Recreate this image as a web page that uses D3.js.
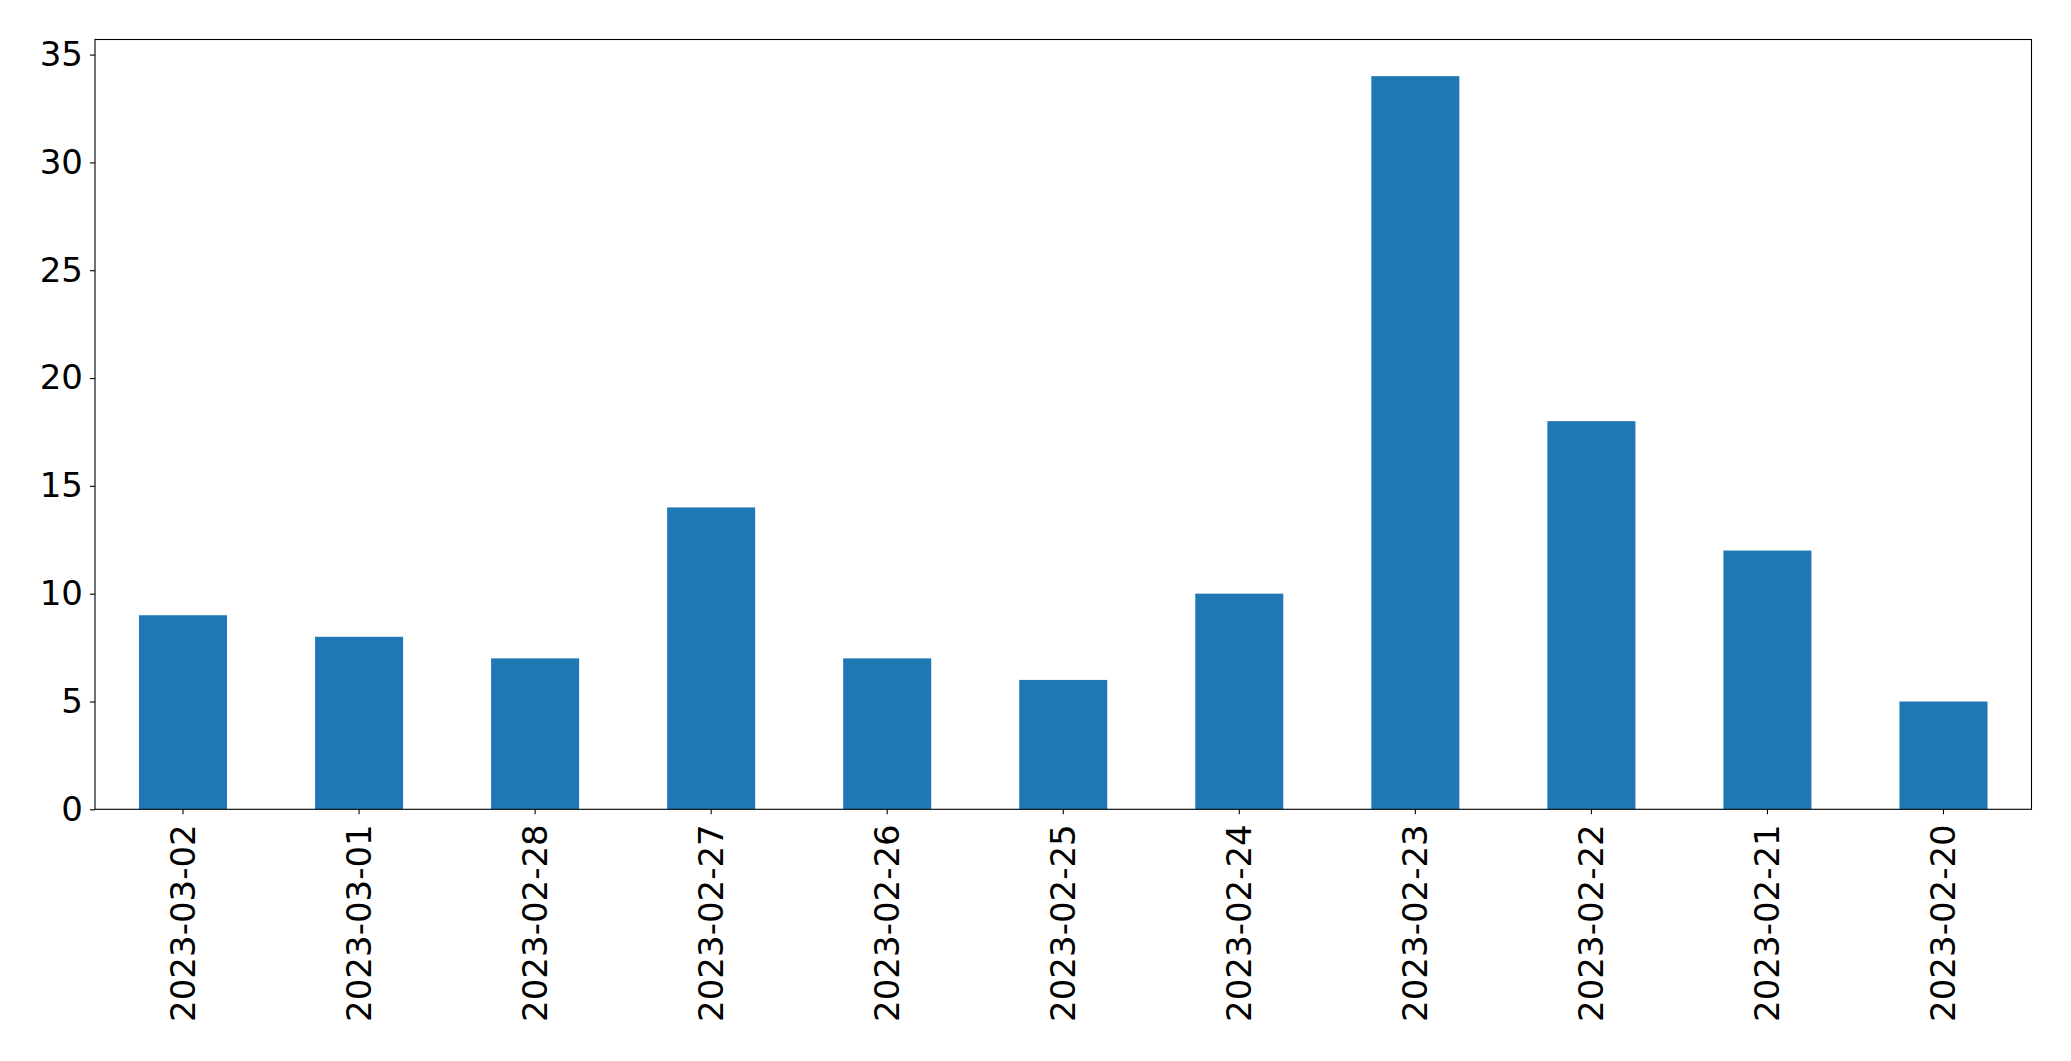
<!DOCTYPE html>
<html>
<head>
<meta charset="utf-8">
<script src="https://cdn.jsdelivr.net/npm/d3@7"></script>
<style>
  html, body { margin: 0; padding: 0; background: #fff; }
  svg { display: block; }
</style>
</head>
<body>
<script>
const categories = ["2023-03-02","2023-03-01","2023-02-28","2023-02-27","2023-02-26","2023-02-25","2023-02-24","2023-02-23","2023-02-22","2023-02-21","2023-02-20"];
const values = [9, 8, 7, 14, 7, 6, 10, 34, 18, 12, 5];
const yTicks = [0, 5, 10, 15, 20, 25, 30, 35];

const W = 2071, H = 1061;
const margin = {left: 95, top: 39.5, right: W - 2031.5, bottom: H - 809.3};
const iw = W - margin.left - margin.right;
const ih = H - margin.top - margin.bottom;

const svg = d3.select("body").append("svg").attr("width", W).attr("height", H);
const g = svg.append("g").attr("transform", `translate(${margin.left},${margin.top})`);

const x = d3.scaleBand().domain(categories).range([0, iw]).paddingInner(0.5).paddingOuter(0.25);
const yMax = d3.max(values) * 1.05;
const y = d3.scaleLinear().domain([0, yMax]).range([ih, 0]);

g.selectAll("rect.bar").data(values).join("rect")
  .attr("class", "bar")
  .attr("x", (d, i) => x(categories[i]))
  .attr("width", x.bandwidth())
  .attr("y", d => y(d))
  .attr("height", d => y(0) - y(d))
  .attr("fill", "#1f77b4");

const font = "'DejaVu Sans', sans-serif";
const fs = 34;

const yAxis = g.append("g")
  .call(d3.axisLeft(y).tickValues(yTicks).tickSize(5).tickPadding(7).tickFormat(d3.format("d")));
yAxis.select(".domain").remove();
yAxis.selectAll("line").attr("stroke", "#000").attr("stroke-width", 1.1);
yAxis.selectAll("text").attr("font-family", font).attr("font-size", fs).attr("fill", "#000");

const xAxis = g.append("g").attr("transform", `translate(0,${ih})`)
  .call(d3.axisBottom(x).tickSize(5).tickPadding(0));
xAxis.select(".domain").remove();
xAxis.selectAll("line").attr("stroke", "#000").attr("stroke-width", 1.1);
xAxis.selectAll("text")
  .attr("font-family", font).attr("font-size", fs).attr("fill", "#000")
  .attr("transform", "rotate(-90)")
  .attr("text-anchor", "end")
  .attr("x", -15)
  .attr("y", 0)
  .attr("dy", "0.35em");

g.append("rect")
  .attr("x", 0).attr("y", 0).attr("width", iw).attr("height", ih)
  .attr("fill", "none").attr("stroke", "#000").attr("stroke-width", 1.1);
</script>
</body>
</html>
